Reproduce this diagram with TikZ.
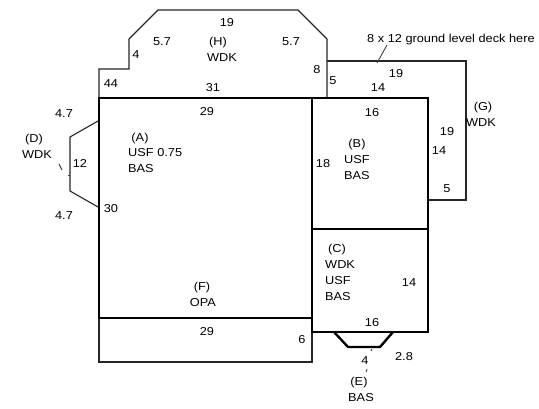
\documentclass[tikz,border=0pt]{standalone}
\usepackage{fontspec}
\setmainfont[FakeStretch=1.11]{Liberation Sans}
\tikzset{
  lbl/.style={inner sep=0pt,font=\fontsize{11.5}{12}\selectfont,text height=8.4pt,text depth=0pt,anchor=center},
  lft/.style={lbl,anchor=west},
  thin line/.style={draw=black!85,line width=1.1pt},
  thick line/.style={draw=black,line width=2.8pt,line cap=square},
  leader/.style={draw=black!75,line width=0.9pt}
}
\begin{document}
\begin{tikzpicture}[x=1pt,y=-1pt]
\useasboundingbox (0,0) rectangle (539,409);
% thin outlines
\draw[thin line] (99,98) -- (99,69) -- (129,69) -- (129,39) -- (158,10) -- (298,10) -- (327,39) -- (327,98);
\draw[thin line] (327,61) -- (466,61) -- (466,200) -- (428,200);
\draw[thin line] (98,121) -- (70,137) -- (70,191) -- (98,207);
\draw[thin line] (99,318) -- (99,362) -- (312,362) -- (312,332);
% thick outlines
\draw[thick line] (99,98) rectangle (312,318);
\draw[thick line] (312,98) rectangle (428,229);
\draw[thick line] (312,229) rectangle (428,332);
\draw[thick line,line width=2.4pt,line cap=butt] (334,332) -- (348,347) -- (380,347) -- (393,332);
% labels
\node[lbl] (h19) at (227,22) {19};
\node[lbl] (h57a) at (162,41) {5.7};
\node[lbl] (hH) at (218,41.5) {(H)};
\node[lbl] (hW) at (222,57) {WDK};
\node[lbl] (h57b) at (291,41) {5.7};
\node[lbl] (h4) at (136,54) {4};
\node[lbl] (h44) at (111,83) {44};
\node[lbl] (h31) at (213,87) {31};
\node[lbl] (h8) at (317,69) {8};
\node[lbl] (a29) at (207,111) {29};
\node[lbl] (d47a) at (64,113) {4.7};
\node[lbl] (dD) at (34,138) {(D)};
\node[lbl] (dW) at (37,154) {WDK};
\node[lbl] (d12) at (80,163) {12};
\node[lbl] (aA) at (140,137) {(A)};
\node[lft] (aU) at (128,152) {USF 0.75};
\node[lft] (aB) at (128,168) {BAS};
\node[lbl] (a30) at (111,208) {30};
\node[lbl] (d47b) at (64,215) {4.7};
\node[lbl] (fF) at (202,286) {(F)};
\node[lbl] (fO) at (203,302) {OPA};
\node[lbl] (f29) at (207,331) {29};
\node[lbl] (f6) at (302,339) {6};
\node[lft] (deck) at (367,38) {8 x 12 ground level deck here};
\node[lbl] (g5a) at (333,80) {5};
\node[lbl] (g14a) at (378,87) {14};
\node[lbl] (g19a) at (396,73) {19};
\node[lbl] (b16) at (372,112) {16};
\node[lbl] (bB) at (357,143) {(B)};
\node[lft] (bU) at (344,159) {USF};
\node[lft] (bBas) at (344,175) {BAS};
\node[lbl] (b18) at (323,163) {18};
\node[lbl] (g19b) at (447,131) {19};
\node[lbl] (g14b) at (439,150) {14};
\node[lbl] (gG) at (483,106) {(G)};
\node[lbl] (gW) at (481,122) {WDK};
\node[lbl] (g5b) at (447,188) {5};
\node[lbl] (cC) at (337,248) {(C)};
\node[lft] (cW) at (325,264) {WDK};
\node[lft] (cU) at (325,280) {USF};
\node[lft] (cB) at (325,296) {BAS};
\node[lbl] (c14) at (409,282) {14};
\node[lbl] (c16) at (372,322) {16};
\node[lbl] (e4) at (365,360) {4};
\node[lbl] (e28) at (404,356) {2.8};
\node[lbl] (eE) at (359,381) {(E)};
\node[lbl] (eB) at (361,397) {BAS};
% leaders
\coordinate (dk1) at (387,45);
\coordinate (dk2) at (377,63);
\draw[leader] (dk1) -- (dk2);
\coordinate (dl1) at (59,164);
\coordinate (dl2) at (62,170);
\draw[leader] (dl1) -- (dl2);
\coordinate (dl3) at (68,175.5);
\coordinate (dl4) at (70,175.5);
\draw[leader] (dl3) -- (dl4);
\coordinate (el1) at (372,349);
\coordinate (el2) at (371,351);
\draw[leader] (el1) -- (el2);
\coordinate (el3) at (367,369);
\coordinate (el4) at (366,372);
\draw[leader] (el3) -- (el4);
\end{tikzpicture}
\end{document}
